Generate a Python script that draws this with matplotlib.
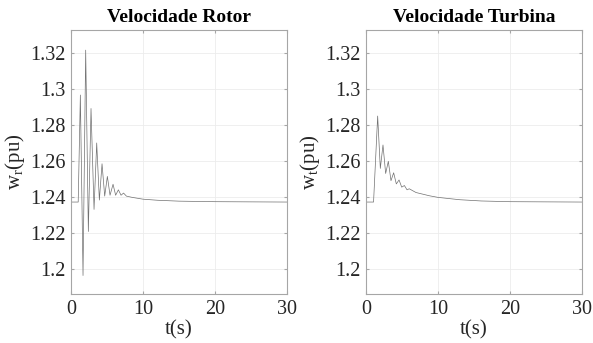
import numpy as np
import matplotlib.pyplot as plt

# Rotor speed (pu): extrema of the oscillation
t_rotor = [0, 1.0, 1.3, 1.67, 2.04, 2.41, 2.78, 3.2, 3.57, 3.94, 4.31, 4.68,
           5.05, 5.42, 5.84, 6.2, 6.58, 6.95, 7.3, 7.7, 8.5, 10, 12, 15, 20, 30]
w_rotor = [1.2372, 1.2372, 1.2968, 1.1963, 1.3218, 1.2208, 1.2893, 1.2331,
           1.2701, 1.2383, 1.2585, 1.2405, 1.2515, 1.2410, 1.2471, 1.2410,
           1.2440, 1.2410, 1.2422, 1.2405, 1.2398, 1.2388, 1.2382, 1.2377,
           1.2374, 1.2372]

# Turbine speed (pu)
t_turb = [0, 1.05, 1.62, 1.99, 2.36, 2.73, 3.1, 3.47, 3.84, 4.21, 4.59, 4.96,
          5.33, 5.7, 6.0, 6.95, 8.8, 10, 13, 16, 20, 30]
w_turb = [1.2372, 1.2372, 1.2851, 1.2559, 1.2690, 1.2531, 1.2599, 1.2491,
          1.2535, 1.2473, 1.2495, 1.2455, 1.2464, 1.2440, 1.2446, 1.2425,
          1.2407, 1.2398, 1.2385, 1.2378, 1.2374, 1.2372]

yticks = [1.2, 1.22, 1.24, 1.26, 1.28, 1.3, 1.32]
ytick_labels = ['1.2', '1.22', '1.24', '1.26', '1.28', '1.3', '1.32']
xticks = [0, 10, 20, 30]

plt.rcParams['font.family'] = ['Liberation Serif', 'DejaVu Serif']
plt.rcParams['mathtext.fontset'] = 'custom'
plt.rcParams['mathtext.rm'] = 'Liberation Serif'
plt.rcParams['mathtext.it'] = 'Liberation Serif'

fig = plt.figure(figsize=(5.93, 3.43), dpi=100)
ax1 = fig.add_axes([71 / 593, 1 - 294 / 343, 216 / 593, 264 / 343])
ax2 = fig.add_axes([366 / 593, 1 - 294 / 343, 216 / 593, 264 / 343])

panels = [
    (ax1, t_rotor, w_rotor, 'Velocidade Rotor', r'w$_\mathrm{r}$(pu)'),
    (ax2, t_turb, w_turb, 'Velocidade Turbina', r'w$_\mathrm{t}$(pu)'),
]

for ax, t, w, title, ylab in panels:
    ax.plot(t, w, color='#707070', lw=0.5)
    ax.set_xlim(0, 30)
    ax.set_ylim(1.186, 1.333)
    ax.set_xticks(xticks)
    ax.set_yticks(yticks)
    ax.set_yticklabels(ytick_labels)
    ax.grid(True, color='#ececec', lw=0.6)
    ax.set_axisbelow(True)
    for s in ax.spines.values():
        s.set_color('#a6a6a6')
        s.set_linewidth(0.8)
    ax.tick_params(direction='in', length=2.5, color='#a6a6a6',
                   labelsize=14.5, labelcolor='#262626', pad=4,
                   top=True, right=True)
    ax.set_title(title, fontsize=14, fontweight='bold', pad=6)
    ax.set_xlabel('t(s)', fontsize=15, labelpad=1, color='#262626')
    ax.set_ylabel(ylab, fontsize=15, labelpad=2, color='#262626')

fig.savefig('out.png', dpi=100)
